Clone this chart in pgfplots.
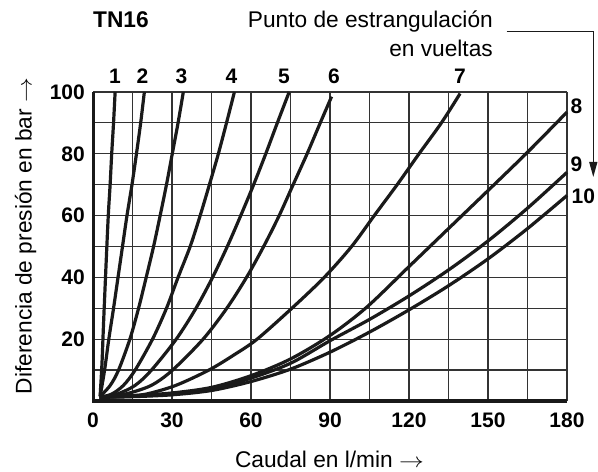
\documentclass[border=0pt]{standalone}
\usepackage{fontspec}
\setmainfont{Liberation Sans}
\usepackage{graphicx}
\usepackage{pgfplots}
\pgfplotsset{compat=1.18}
\usetikzlibrary{arrows.meta}
\definecolor{curve}{HTML}{1A1A1A}
\definecolor{gridc}{HTML}{333333}
\newcommand\txt{\fontsize{22.7bp}{27bp}\selectfont}
\newcommand\num{\fontsize{21bp}{25bp}\selectfont\bfseries}
\newcommand\arr{\scalebox{1.2}[1]{$\rightarrow$}}
\begin{document}
\begin{tikzpicture}
\path[use as bounding box] (0,0) rectangle (598bp,472bp);
\begin{axis}[
  at={(93bp,71bp)}, anchor=south west,
  scale only axis, width=474bp, height=309bp,
  xmin=0, xmax=180, ymin=0, ymax=100,
  xtick={0,15,...,180}, xticklabels={0,,30,,60,,90,,120,,150,,180},
  ytick={0,10,...,100}, yticklabels={,,20,,40,,60,,80,,100},
  grid=major, grid style={line width=1.2bp, gridc},
  axis line style={draw=none},
  major tick length=0pt, tick style={draw=none},
  /pgf/number format/assume math mode=true,
  xticklabel style={font=\num, anchor=base, inner sep=0pt, yshift=-26bp},
  yticklabel style={font=\num, anchor=east, inner sep=0pt, xshift=-8bp},
  clip=false,
  c/.style={draw=curve, solid, line width=3.2bp, smooth, tension=0.5, mark=none},
]
% 1
\addplot[c] coordinates {(2.7,1.5) (3.4,12) (4.0,25) (5.0,45) (5.8,60) (6.5,70) (7.1,80) (7.8,90) (8.4,100)};
% 2
\addplot[c] coordinates {(2.7,1.5) (4.4,10) (6.0,20) (7.8,30) (9.5,40) (11.2,50) (12.9,60) (14.8,70) (16.5,80) (18.1,90) (19.5,100)};
% 3
\addplot[c] coordinates {(2.6,1.4) (6.5,5) (9.7,10) (14.0,20) (17.3,30) (20.2,40) (23.0,50) (25.5,60) (27.9,70) (30.1,80) (32.3,90) (34.3,100)};
% 4
\addplot[c] coordinates {(2.5,1.2) (7,2.2) (11.5,5) (16,10) (22.6,20) (27.9,30) (32.3,40) (36.9,50) (40.7,60) (44.2,70) (47.6,80) (50.7,90) (53.7,100)};
% 5
\addplot[c] coordinates {(2.5,1.2) (9,2.2) (15.9,5) (22.2,10) (31.6,20) (39.1,30) (45.4,40) (51,50) (56.1,60) (61,70) (65.6,80) (70,90) (74.5,100)};
% 6
\addplot[c] coordinates {(2.5,1.2) (12,2.2) (22,5) (30.2,10) (41.8,20) (50.8,30) (58.3,40) (64.8,50) (70.7,60) (76,70) (81.3,80) (86.3,90) (90.6,98.5)};
% 7
\addplot[c] coordinates {(2.5,1.2) (12,1.6) (20,2.2) (31.3,5) (44,10) (53.7,15) (62.3,20) (75.5,30) (87.8,40) (98.2,50) (106.8,60) (115.5,70) (123.8,80) (132.3,90) (139.4,99.5)};
% 8
\addplot[c] coordinates {(2.5,1.2) (15,1.7) (30,2.6) (45,4.4) (60,8.2) (75,13.6) (90,21.2) (104,30.4) (120,43.5) (135,55.8) (150,68.1) (165,80.5) (180,93.5)};
% 9
\addplot[c] coordinates {(2.5,1.2) (15,1.5) (30,2.3) (45,3.8) (60,7.4) (75,12.2) (90,19.5) (105,26.4) (120,34) (135,42.4) (150,51.8) (165,62.4) (180,74)};
% 10
\addplot[c] coordinates {(2.5,1.2) (15,1.4) (30,2.0) (45,3.4) (60,6.3) (75,10.3) (90,15.8) (105,22.3) (120,29.5) (135,37.3) (150,46) (165,55.8) (180,66.5)};
\draw[line width=3bp, black!90] (axis cs:0,100) -- (axis cs:0,0) -- (axis cs:180,0);
\end{axis}
\node[anchor=base west, font=\txt\bfseries, inner sep=0pt] at (93bp,444bp) {TN16};
\node[anchor=base east, font=\txt, inner sep=0pt] at (493bp,444bp) {Punto de estrangulación};
\node[anchor=base east, font=\txt, inner sep=0pt] at (493bp,415.3bp) {en vueltas};
\draw[line width=1.3bp, curve, -{Triangle[length=15bp,width=8bp]}] (506.7bp,440.3bp) -- (593.3bp,440.3bp) -- (593.3bp,295bp);
\foreach \l/\x in {1/115,2/142.5,3/181.5,4/231.5,5/284,6/334,7/460}
  \node[anchor=base, font=\num, inner sep=0pt] at (\x bp,388.7bp) {\l};
\node[anchor=base west, font=\num, inner sep=0pt] at (570.5bp,358.7bp) {8};
\node[anchor=base west, font=\num, inner sep=0pt] at (570.5bp,300.3bp) {9};
\node[anchor=base west, font=\num, inner sep=0pt] at (571.5bp,268.7bp) {10};
\node[anchor=base, font=\txt, inner sep=0pt] at (329.5bp,5bp) {Caudal en l/min \arr};
\node[anchor=base, rotate=90, font=\txt, inner sep=0pt] at (31.5bp,236bp) {Diferencia de presión en bar \arr};
\end{tikzpicture}
\end{document}
